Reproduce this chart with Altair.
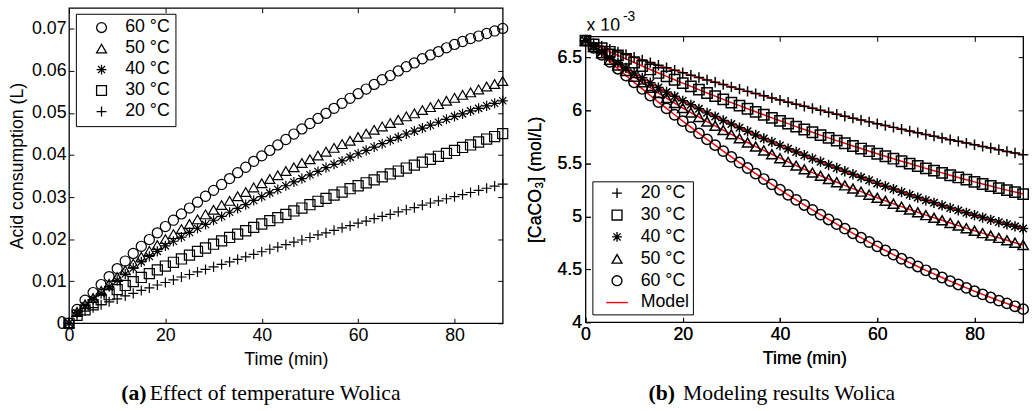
import altair as alt
import pandas as pd

# ---------------- data ----------------
TIME_MIN = [0, 1.67, 3.33, 5, 6.67, 8.33, 10, 11.67, 13.33, 15, 16.67, 18.33, 20, 21.67, 23.33, 25,
            26.67, 28.33, 30, 31.67, 33.33, 35, 36.67, 38.33, 40, 41.67, 43.33, 45, 46.67, 48.33, 50,
            51.67, 53.33, 55, 56.67, 58.33, 60, 61.67, 63.33, 65, 66.67, 68.33, 70, 71.67, 73.33, 75,
            76.67, 78.33, 80, 81.67, 83.33, 85, 86.67, 88.33, 90]

# (a) acid consumption (L)
ACID_60 = [0, .0033, .0055, .0073, .0092, .0111, .0130, .0148, .0166, .0183, .0199, .0215, .0230, .0245,
           .0260, .0274, .0288, .0302, .0316, .0330, .0344, .0358, .0371, .0385, .0398, .0411, .0424, .0437,
           .0450, .0462, .0475, .0487, .0499, .0511, .0523, .0535, .0546, .0557, .0568, .0579, .0589, .0600,
           .0610, .0619, .0629, .0638, .0646, .0655, .0663, .0670, .0677, .0683, .0689, .0695, .0701]
ACID_50 = [0, .0027, .0045, .0060, .0077, .0094, .0110, .0126, .0142, .0158, .0172, .0186, .0200, .0212,
           .0224, .0236, .0247, .0259, .0270, .0281, .0291, .0302, .0312, .0323, .0333, .0343, .0352, .0362,
           .0371, .0381, .0390, .0399, .0408, .0417, .0426, .0434, .0443, .0451, .0460, .0468, .0476, .0484,
           .0492, .0499, .0507, .0514, .0521, .0529, .0536, .0543, .0549, .0556, .0563, .0569, .0576]
ACID_40 = [0, .0025, .0042, .0056, .0071, .0087, .0102, .0117, .0131, .0146, .0159, .0171, .0184, .0195,
           .0205, .0216, .0226, .0235, .0245, .0254, .0264, .0273, .0282, .0292, .0301, .0310, .0318, .0327,
           .0336, .0344, .0353, .0361, .0370, .0378, .0386, .0395, .0403, .0411, .0419, .0427, .0435, .0442,
           .0450, .0457, .0464, .0471, .0478, .0485, .0492, .0498, .0505, .0511, .0517, .0523, .0529]
ACID_30 = [0, .0019, .0032, .0044, .0056, .0068, .0080, .0090, .0099, .0109, .0118, .0127, .0136, .0145,
           .0153, .0162, .0171, .0179, .0188, .0196, .0204, .0212, .0220, .0228, .0236, .0244, .0251, .0259,
           .0267, .0274, .0282, .0290, .0297, .0305, .0312, .0320, .0327, .0334, .0341, .0348, .0355, .0362,
           .0369, .0376, .0383, .0390, .0397, .0404, .0411, .0418, .0424, .0431, .0438, .0444, .0451]
ACID_20 = [0, .0018, .0029, .0037, .0044, .0051, .0058, .0065, .0071, .0078, .0084, .0091, .0097, .0103,
           .0110, .0116, .0122, .0128, .0134, .0140, .0146, .0152, .0158, .0164, .0170, .0176, .0181, .0187,
           .0193, .0198, .0204, .0210, .0215, .0221, .0227, .0232, .0238, .0243, .0249, .0254, .0259, .0265,
           .0270, .0275, .0281, .0286, .0291, .0296, .0301, .0306, .0311, .0316, .0321, .0326, .0331]

# (b) [CaCO3] in units of 1e-3 mol/L
CACO3_20 = [6.660, 6.633, 6.607, 6.580, 6.554, 6.529, 6.503, 6.478, 6.453, 6.428, 6.404, 6.381, 6.357,
            6.334, 6.312, 6.289, 6.267, 6.245, 6.223, 6.202, 6.181, 6.160, 6.140, 6.119, 6.099, 6.079,
            6.060, 6.040, 6.021, 6.002, 5.983, 5.965, 5.946, 5.928, 5.910, 5.893, 5.875, 5.858, 5.841,
            5.824, 5.807, 5.791, 5.774, 5.758, 5.741, 5.725, 5.709, 5.693, 5.677, 5.661, 5.646, 5.630,
            5.614, 5.599, 5.583]
CACO3_30 = [6.660, 6.625, 6.590, 6.555, 6.521, 6.488, 6.454, 6.421, 6.388, 6.355, 6.323, 6.291, 6.259,
            6.228, 6.197, 6.166, 6.136, 6.105, 6.075, 6.046, 6.017, 5.988, 5.960, 5.931, 5.903, 5.876,
            5.848, 5.821, 5.795, 5.768, 5.742, 5.716, 5.691, 5.665, 5.641, 5.616, 5.592, 5.568, 5.545,
            5.521, 5.499, 5.476, 5.454, 5.432, 5.411, 5.389, 5.368, 5.347, 5.326, 5.306, 5.287, 5.267,
            5.248, 5.230, 5.211]
CACO3_40 = [6.660, 6.605, 6.551, 6.500, 6.452, 6.403, 6.355, 6.309, 6.263, 6.217, 6.175, 6.134, 6.092,
            6.054, 6.016, 5.978, 5.943, 5.907, 5.872, 5.838, 5.804, 5.770, 5.737, 5.704, 5.671, 5.640,
            5.609, 5.578, 5.547, 5.517, 5.486, 5.457, 5.427, 5.398, 5.369, 5.341, 5.312, 5.285, 5.258,
            5.231, 5.205, 5.178, 5.152, 5.128, 5.104, 5.080, 5.057, 5.034, 5.011, 4.989, 4.968, 4.946,
            4.926, 4.906, 4.886]
CACO3_50 = [6.660, 6.600, 6.540, 6.480, 6.426, 6.373, 6.319, 6.268, 6.216, 6.165, 6.118, 6.071, 6.024,
            5.981, 5.939, 5.896, 5.856, 5.815, 5.775, 5.737, 5.698, 5.660, 5.623, 5.587, 5.550, 5.515,
            5.480, 5.445, 5.414, 5.384, 5.353, 5.323, 5.293, 5.263, 5.234, 5.205, 5.176, 5.148, 5.120,
            5.092, 5.065, 5.039, 5.012, 4.987, 4.963, 4.938, 4.913, 4.889, 4.864, 4.842, 4.819, 4.797,
            4.775, 4.752, 4.730]
CACO3_60 = [6.660, 6.593, 6.527, 6.460, 6.395, 6.331, 6.266, 6.204, 6.142, 6.080, 6.020, 5.960, 5.900,
            5.843, 5.785, 5.728, 5.673, 5.617, 5.562, 5.509, 5.457, 5.404, 5.353, 5.303, 5.252, 5.204,
            5.156, 5.108, 5.062, 5.017, 4.971, 4.927, 4.884, 4.840, 4.799, 4.758, 4.717, 4.678, 4.639,
            4.600, 4.564, 4.527, 4.491, 4.457, 4.423, 4.389, 4.357, 4.325, 4.293, 4.264, 4.234, 4.205,
            4.178, 4.151, 4.124]

LEFT_SERIES = ["60 °C", "50 °C", "40 °C", "30 °C", "20 °C"]
RIGHT_SERIES = ["20 °C", "30 °C", "40 °C", "50 °C", "60 °C", "Model"]
X_TICKS = [0, 20, 40, 60, 80]
LEFT_Y_TICKS = [0, 0.01, 0.02, 0.03, 0.04, 0.05, 0.06, 0.07]
RIGHT_Y_TICKS = [4, 4.5, 5, 5.5, 6, 6.5]

# ---------------- styling ----------------
SANS = "Liberation Sans"
SERIF = "Liberation Serif"
PLUS = "M-1,0L1,0M0,-1L0,1"
ASTER = "M-1,0L1,0M0,-1L0,1M-0.72,-0.72L0.72,0.72M-0.72,0.72L0.72,-0.72"
MODEL_SYM = "M-2.2,0L2.2,0"

LEFT_SHAPES = ["circle", "triangle-up", ASTER, "square", PLUS]
RIGHT_SHAPES = [PLUS, "square", ASTER, "triangle-up", "circle", MODEL_SYM]
RIGHT_STROKES = ["black", "black", "black", "black", "black", "#ff0000"]


def long_df(pairs):
    rows = []
    for name, vals in pairs:
        for t, v in zip(TIME_MIN, vals):
            rows.append({"t": t, "v": v, "series": name, "temp": name})
    return pd.DataFrame(rows)


left_df = long_df([("60 °C", ACID_60), ("50 °C", ACID_50), ("40 °C", ACID_40),
                   ("30 °C", ACID_30), ("20 °C", ACID_20)])
right_df = long_df([("20 °C", CACO3_20), ("30 °C", CACO3_30), ("40 °C", CACO3_40),
                    ("50 °C", CACO3_50), ("60 °C", CACO3_60)])

LW, LH = 440, 320
RW, RH = 444, 290
HEADER_H = 23

x_scale = alt.Scale(domain=[0, 90], nice=False, zero=False)
ly_scale = alt.Scale(domain=[0, 0.075], nice=False, zero=False)
ry_scale = alt.Scale(domain=[4, 6.7], nice=False, zero=False)

one = alt.Data(values=[{"k": 0}])


def x_bottom():
    return alt.X("t:Q", scale=x_scale,
                 axis=alt.Axis(orient="bottom", values=X_TICKS, title="Time (min)", format="d",
                               labelPadding=3, titlePadding=7))


def x_top():
    return alt.X("t:Q", scale=x_scale,
                 axis=alt.Axis(orient="top", values=X_TICKS, labels=False, title=None))


def text_mark(txt, x, y, size, font=SANS, weight="normal", color="black", clip=False):
    return alt.Chart(one).mark_text(text=txt, font=font, fontSize=size, fontWeight=weight,
                                    align="left", baseline="alphabetic", color=color,
                                    clip=clip).encode(
        x=alt.value(x), y=alt.value(y))


# ---------------- left panel ----------------
left_legend = alt.Legend(title=None, orient="none", legendX=7, legendY=6, strokeColor="black",
                         fillColor="white", padding=5, rowPadding=3.3, symbolOffset=12,
                         labelOffset=15, labelFont=SANS, labelFontSize=18, labelColor="black",
                         symbolSize=100, symbolStrokeWidth=1.3, symbolStrokeColor="black",
                         symbolFillColor="transparent", labelLimit=300)

left_points = alt.Chart(left_df).mark_point(filled=False, size=105, strokeWidth=1.2,
                                             color="black", opacity=1).encode(
    x=x_bottom(),
    y=alt.Y("v:Q", scale=ly_scale,
            axis=alt.Axis(orient="left", values=LEFT_Y_TICKS, title="Acid consumption (L)",
                          labelExpr="datum.value == 0 ? '0' : format(datum.value, '.2f')",
                          labelPadding=3, titlePadding=5)),
    shape=alt.Shape("series:N", scale=alt.Scale(domain=LEFT_SERIES, range=LEFT_SHAPES),
                    legend=left_legend),
)
left_mirror = alt.Chart(left_df).mark_point(opacity=0).encode(
    x=x_top(),
    y=alt.Y("v:Q", scale=ly_scale,
            axis=alt.Axis(orient="right", values=LEFT_Y_TICKS, labels=False, title=None)),
)
left = alt.layer(
    left_points, left_mirror,
    text_mark("(a)", 53, 398, 22, SERIF, "bold"),
    text_mark("Effect of temperature Wolica", 82, 398, 22, SERIF),
).resolve_axis(x="independent", y="independent").properties(width=LW, height=LH)

# ---------------- right panel ----------------
# (legend coordinates are relative to the right column, which starts HEADER_H above the plot)
right_legend = alt.Legend(title=None, orient="none", legendX=7, legendY=176, strokeColor="black",
                          fillColor="white", padding=3, rowPadding=4.2, symbolOffset=13,
                          labelOffset=15, labelFont=SANS, labelFontSize=18, labelColor="black",
                          symbolSize=100, symbolStrokeWidth=1.4, symbolFillColor="transparent",
                          labelLimit=300)
shape_r = alt.Scale(domain=RIGHT_SERIES, range=RIGHT_SHAPES)
stroke_r = alt.Scale(domain=RIGHT_SERIES, range=RIGHT_STROKES)
ry_axis = alt.Axis(orient="left", values=RIGHT_Y_TICKS, title="[CaCO₃] (mol/L)", format="~g",
                   labelPadding=4, titlePadding=13)

right_lines = alt.Chart(right_df).transform_calculate(series="'Model'").mark_line(
    strokeWidth=1.5).encode(
    x=x_bottom(),
    y=alt.Y("v:Q", scale=ry_scale, axis=ry_axis),
    detail="temp:N",
    stroke=alt.Stroke("series:N", scale=stroke_r, legend=right_legend),
)
right_points = alt.Chart(right_df).mark_point(filled=False, size=110, strokeWidth=1.5,
                                              opacity=1).encode(
    x=x_bottom(),
    y=alt.Y("v:Q", scale=ry_scale, axis=ry_axis),
    shape=alt.Shape("series:N", scale=shape_r, legend=right_legend),
    stroke=alt.Stroke("series:N", scale=stroke_r, legend=right_legend),
)
right_mirror = alt.Chart(right_df).mark_point(opacity=0).encode(
    x=x_top(),
    y=alt.Y("v:Q", scale=ry_scale,
            axis=alt.Axis(orient="right", values=RIGHT_Y_TICKS, labels=False, title=None)),
)
right = alt.layer(
    right_lines, right_points, right_mirror,
    text_mark("(b)", 64, 369, 22, SERIF, "bold"),
    text_mark("Modeling results Wolica", 99, 369, 22, SERIF),
).resolve_axis(x="independent", y="independent").properties(width=RW, height=RH)

# exponent label above the right panel
header = alt.layer(
    text_mark("x 10", 1, 23, 18, clip=True),
    text_mark("-3", 38, 13, 14, clip=True),
).properties(width=RW, height=HEADER_H, view=alt.ViewBackground(stroke="transparent"))

right_col = alt.vconcat(header, right, spacing=0)

chart = alt.hconcat(left, right_col, spacing=14).resolve_scale(
    shape="independent", stroke="independent", y="independent"
).resolve_legend(shape="independent", stroke="independent").properties(
    padding={"left": 8, "top": 3, "right": 0, "bottom": 0},
    background="white",
).configure_view(stroke="black", strokeWidth=1.3).configure_axis(
    labelFont=SANS, titleFont=SANS, labelFontSize=18, titleFontSize=18, titleFontWeight="normal",
    labelColor="black", titleColor="black", tickColor="black", tickSize=5, tickWidth=1,
    domain=False, grid=False, offset=-5, labelFlush=False,
)

chart.save("out.html", embed_options={"renderer": "svg", "actions": False})
